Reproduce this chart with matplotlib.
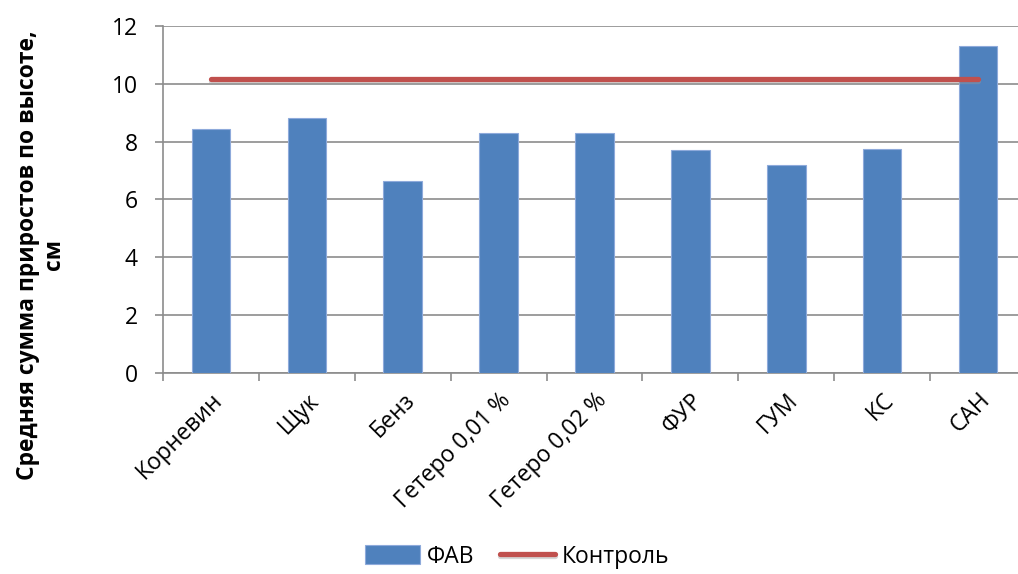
import matplotlib
matplotlib.use("Agg")
import matplotlib.pyplot as plt
import matplotlib.patheffects as pe
import numpy as np

plt.rcParams["font.family"] = ["Open Sans", "DejaVu Sans"]

categories = ["Корневин", "Щук", "Бенз", "Гетеро 0,01 %", "Гетеро 0,02 %",
              "ФУР", "ГУМ", "КС", "САН"]
fav_values = [8.42, 8.82, 6.65, 8.29, 8.29, 7.71, 7.19, 7.75, 11.32]
control_value = 10.17

bar_color = "#4F81BD"
line_color = "#C0504D"
grid_color = "#8C8C8C"

fig = plt.figure(figsize=(10.18, 5.74), dpi=100)
# plot area runs past the right edge, as in the original
ax = fig.add_axes([0.160, 0.350, 0.848, 0.605])

x = np.arange(len(categories))
bars = ax.bar(x, fav_values, width=0.4, color=bar_color, edgecolor="#8EAADB",
              linewidth=0.8, label="ФАВ", zorder=3)
line, = ax.plot([x[0], x[-1]], [control_value, control_value], color=line_color,
                linewidth=3.8, solid_capstyle="round", label="Контроль", zorder=4,
                path_effects=[pe.SimpleLineShadow(offset=(0, -1.5), shadow_color="#999999", alpha=0.4),
                              pe.Normal()])

ax.set_xlim(-0.5, len(categories) - 0.5)
ax.set_ylim(0, 12)
ax.set_yticks(range(0, 13, 2))
ax.yaxis.grid(True, color=grid_color, linewidth=1.2, zorder=0)
ax.set_axisbelow(True)

ax.set_xticks(x)
ax.set_xticklabels(categories, rotation=45, ha="right", rotation_mode="anchor",
                   fontsize=16.5)
ax.tick_params(axis="x", length=0, pad=11)
ax.set_xticks(np.arange(-0.5, len(categories)), minor=True)
ax.tick_params(axis="x", which="minor", length=6, color=grid_color, width=1.2)
ax.tick_params(axis="y", labelsize=16.5, length=6, color=grid_color, width=1.2, pad=12)

for side in ["top", "right"]:
    ax.spines[side].set_visible(False)
for side in ["left", "bottom"]:
    ax.spines[side].set_color(grid_color)
    ax.spines[side].set_linewidth(1.2)

fig.text(0.040, 0.556, "Средняя сумма приростов по высоте,\nсм", rotation=90,
         ha="center", va="center", multialignment="center",
         fontsize=16.5, fontweight="bold", linespacing=1.1)

fig.legend([bars, line], ["ФАВ", "Контроль"], loc="center",
           bbox_to_anchor=(0.508, 0.03), ncol=2, frameon=False,
           fontsize=16.5, handlelength=2.4, handleheight=0.9,
           handletextpad=0.3, columnspacing=1.1, borderpad=0.1)

fig.savefig("out.png", dpi=100)
